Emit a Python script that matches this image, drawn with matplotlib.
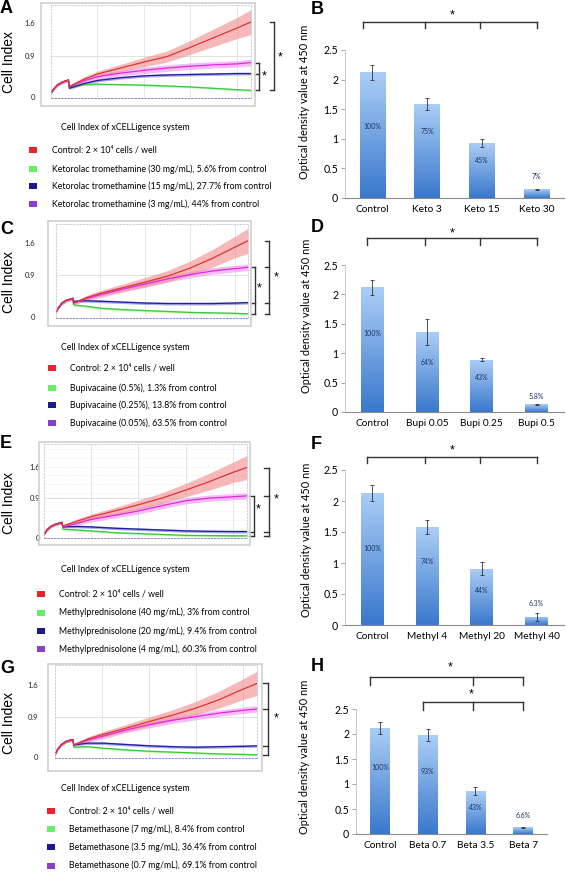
import matplotlib
matplotlib.use("Agg")
import matplotlib.pyplot as plt
import numpy as np
from matplotlib.colors import LinearSegmentedColormap
from matplotlib.patches import Rectangle
from matplotlib.lines import Line2D

W, H = 567, 873

# ---------------- xCELLigence curves (time in hours, cell index) ----------------
t_pre = [0, 3, 7, 12, 19]
t_post = [20, 35, 50, 75, 100, 125, 150, 175, 200, 215]
sd_pre = [0.01, 0.02, 0.03, 0.03, 0.03]

# panel A : ketorolac
a_pre = [0.07, 0.17, 0.26, 0.32, 0.37]
a_ctrl = [0.23, 0.38, 0.50, 0.63, 0.76, 0.88, 1.08, 1.29, 1.50, 1.63]
a_high = [0.22, 0.27, 0.28, 0.27, 0.26, 0.24, 0.22, 0.19, 0.16, 0.145]
a_mid = [0.19, 0.29, 0.36, 0.42, 0.46, 0.48, 0.49, 0.50, 0.51, 0.51]
a_low = [0.22, 0.35, 0.44, 0.52, 0.58, 0.63, 0.67, 0.70, 0.72, 0.75]

# panel C : bupivacaine
c_pre = [0.09, 0.20, 0.30, 0.36, 0.40]
c_ctrl = [0.30, 0.42, 0.51, 0.63, 0.75, 0.88, 1.05, 1.26, 1.50, 1.64]
c_high = [0.26, 0.23, 0.19, 0.16, 0.14, 0.12, 0.10, 0.09, 0.08, 0.07]
c_mid = [0.34, 0.35, 0.34, 0.32, 0.30, 0.29, 0.29, 0.29, 0.30, 0.31]
c_low = [0.30, 0.40, 0.48, 0.60, 0.71, 0.82, 0.91, 0.99, 1.04, 1.07]

# panel E : methylprednisolone
e_pre = [0.06, 0.17, 0.25, 0.30, 0.34]
e_ctrl = [0.26, 0.37, 0.47, 0.60, 0.74, 0.89, 1.07, 1.26, 1.47, 1.58]
e_high = [0.19, 0.17, 0.15, 0.11, 0.09, 0.07, 0.05, 0.045, 0.04, 0.04]
e_mid = [0.24, 0.25, 0.24, 0.21, 0.19, 0.17, 0.15, 0.14, 0.135, 0.135]
e_low = [0.24, 0.32, 0.41, 0.50, 0.60, 0.72, 0.83, 0.89, 0.92, 0.94]

# panel G : betamethasone
g_pre = [0.05, 0.18, 0.28, 0.35, 0.39]
g_ctrl = [0.27, 0.40, 0.50, 0.64, 0.79, 0.93, 1.09, 1.28, 1.51, 1.64]
g_high = [0.22, 0.23, 0.20, 0.16, 0.13, 0.11, 0.09, 0.07, 0.06, 0.05]
g_mid = [0.27, 0.31, 0.31, 0.28, 0.25, 0.23, 0.22, 0.23, 0.24, 0.25]
g_low = [0.27, 0.38, 0.46, 0.60, 0.72, 0.82, 0.90, 0.98, 1.04, 1.07]

# standard deviations after treatment
sd_ctrl = [0.03, 0.05, 0.06, 0.08, 0.10, 0.12, 0.15, 0.19, 0.23, 0.27]
sd_low = [0.03, 0.05, 0.06, 0.06, 0.07, 0.07, 0.07, 0.07, 0.07, 0.07]
sd_mid = [0.02, 0.03, 0.03, 0.03, 0.03, 0.03, 0.03, 0.03, 0.03, 0.03]
sd_high = [0.02, 0.02, 0.02, 0.02, 0.02, 0.02, 0.02, 0.02, 0.02, 0.02]

a_legend = ["Control: 2 \u00d7 10\u2074 cells / well",
            "Ketorolac tromethamine (30 mg/mL), 5.6% from control",
            "Ketorolac tromethamine (15 mg/mL), 27.7% from control",
            "Ketorolac tromethamine (3 mg/mL), 44% from control"]
c_legend = ["Control: 2 \u00d7 10\u2074 cells / well",
            "Bupivacaine (0.5%), 1.3% from control",
            "Bupivacaine (0.25%), 13.8% from control",
            "Bupivacaine (0.05%), 63.5% from control"]
e_legend = ["Control: 2 \u00d7 10\u2074 cells / well",
            "Methylprednisolone (40 mg/mL), 3% from control",
            "Methylprednisolone (20 mg/mL), 9.4% from control",
            "Methylprednisolone (4 mg/mL), 60.3% from control"]
g_legend = ["Control: 2 \u00d7 10\u2074 cells / well",
            "Betamethasone (7 mg/mL), 8.4% from control",
            "Betamethasone (3.5 mg/mL), 36.4% from control",
            "Betamethasone (0.7 mg/mL), 69.1% from control"]

# ---------------- CCK-8 bars (OD 450 nm) ----------------
b_cats = ["Control", "Keto 3", "Keto 15", "Keto 30"]
b_vals = [2.12, 1.59, 0.93, 0.15]
b_errs = [0.13, 0.10, 0.07, 0.01]
b_pcts = ["100%", "75%", "45%", "7%"]
b_pct_y = [1.20, 1.12, 0.64, 0.36]

d_cats = ["Control", "Bupi 0.05", "Bupi 0.25", "Bupi 0.5"]
d_vals = [2.12, 1.36, 0.89, 0.13]
d_errs = [0.13, 0.22, 0.03, 0.01]
d_pcts = ["100%", "64%", "43%", "5.8%"]
d_pct_y = [1.34, 0.85, 0.58, 0.27]

f_cats = ["Control", "Methyl 4", "Methyl 20", "Methyl 40"]
f_vals = [2.13, 1.58, 0.91, 0.13]
f_errs = [0.13, 0.12, 0.11, 0.06]
f_pcts = ["100%", "74%", "44%", "6.3%"]
f_pct_y = [1.24, 1.02, 0.55, 0.35]

h_cats = ["Control", "Beta 0.7", "Beta 3.5", "Beta 7"]
h_vals = [2.13, 1.98, 0.86, 0.14]
h_errs = [0.12, 0.12, 0.08, 0.01]
h_pcts = ["100%", "93%", "43%", "6.6%"]
h_pct_y = [1.32, 1.24, 0.54, 0.38]

LINE_C = ["#e03434", "#3cc83c", "#1e1e9e", "#e028e0"]
BAND_C = ["#f08a8a", "#80f080", "#7070d0", "#f090f0"]
SWATCH_C = ["#e8242c", "#66ee66", "#1a1a8c", "#8b3fc8"]

CAL = ["Lato", "DejaVu Sans"]
ARIAL = ["Liberation Sans", "DejaVu Sans"]

fig = plt.figure(figsize=(W / 100, H / 100), dpi=100)


def px_axes(x0, y0, x1, y1):
    return fig.add_axes([x0 / W, 1 - y1 / H, (x1 - x0) / W, (y1 - y0) / H])


def ftext(x, y, s, **kw):
    fig.text(x / W, 1 - y / H, s, **kw)


def cell_panel(box, frame, ylim, pad, pre, curves, ylab_y, brackets, minor=False):
    ax = px_axes(*box)
    fx0, fy0, fx1, fy1 = frame
    fig.patches.append(Rectangle((fx0 / W, 1 - fy1 / H), (fx1 - fx0) / W, (fy1 - fy0) / H,
                                 transform=fig.transFigure, fill=False, ec="#d0d0d0", lw=1.2))
    t = t_pre + t_post
    sds = [sd_ctrl, sd_high, sd_mid, sd_low]
    for i in [1, 2, 3, 0]:
        v = np.array(pre + curves[i])
        s = np.array(sd_pre + sds[i])
        ax.fill_between(t, v - s, v + s, color=BAND_C[i], alpha=0.6, lw=0)
    for i in [1, 2, 3, 0]:
        ax.plot(t, pre + curves[i], color=LINE_C[i], lw=0.9)
    ax.set_xlim(0, 215)
    ax.set_ylim(*ylim)
    for xv in [50, 100, 150, 200]:
        ax.axvline(xv, color="#e2e2e2", lw=0.6, zorder=0)
    ax.axhline(0.9, color="#dcdcdc", lw=0.6, zorder=0)
    if minor:
        for yv in [0.2, 0.4, 0.6, 0.8, 1.0, 1.2, 1.4, 1.6, 1.8, 2.0]:
            ax.axhline(yv, color="#e4e4e4", lw=0.5, ls=":", zorder=0)
    for sp in ax.spines.values():
        sp.set_color("#c8c8d8")
        sp.set_linewidth(0.6)
        sp.set_linestyle((0, (2, 2)))
    ax.spines["bottom"].set_color("#7a7ad0")
    ax.set_xticks([])
    ax.set_yticks([0, 0.9, 1.6])
    ax.set_yticklabels(["0", "0.9", "1.6"], fontsize=5.5, family=CAL, color="#222222")
    ax.tick_params(axis="y", length=0, pad=pad)
    ftext(9, ylab_y, "Cell Index", rotation=90, ha="center", va="center",
          fontsize=10, family=ARIAL)
    tr = ax.get_yaxis_transform()
    for xb, ticks, star in brackets:
        ax.add_line(Line2D([xb, xb], [ticks[0], ticks[-1]], transform=tr, color="#333333",
                           lw=1.0, clip_on=False))
        for yv in ticks:
            ax.add_line(Line2D([xb - 0.022, xb], [yv, yv], transform=tr, color="#333333",
                               lw=1.0, clip_on=False))
        ax.text(star[0], star[1], "*", transform=tr, ha="center", va="center",
                fontsize=9, family=ARIAL, clip_on=False)
    return ax


def legend_block(cap_y, sw_x, txt_x, rows_y, labels):
    ftext(61, cap_y, "Cell Index of xCELLigence system", fontsize=6.3, family=CAL,
          va="center", ha="left")
    for yy, lab, col in zip(rows_y, labels, SWATCH_C):
        fig.patches.append(Rectangle((sw_x / W, 1 - (yy + 3) / H), 8 / W, 6 / H,
                                     transform=fig.transFigure, color=col, lw=0))
        ftext(txt_x, yy, lab, fontsize=6.3, family=CAL, va="center", ha="left")


cmap = LinearSegmentedColormap.from_list("bar", ["#3a78cc", "#abcef6"])
grad = np.linspace(0, 1, 128).reshape(-1, 1)


def bar_panel(box, cats, vals, errs, pcts, pct_y, width, ylab_xy, brackets):
    ax = px_axes(*box)
    x = np.arange(len(cats))
    bars = ax.bar(x, vals, width=width, color="none", lw=0, zorder=2)
    for b in bars:
        x0 = b.get_x()
        im = ax.imshow(grad, extent=[x0, x0 + b.get_width(), 0, b.get_height()],
                       origin="lower", cmap=cmap, aspect="auto", zorder=2)
        im.set_clip_path(b)
    ax.errorbar(x, vals, yerr=errs, fmt="none", ecolor="#333333", elinewidth=0.6,
                capsize=1.5, capthick=0.6, zorder=4)
    for xi, yv, s in zip(x, pct_y, pcts):
        ax.text(xi, yv, s, ha="center", va="center", fontsize=5.0, family=CAL,
                color="#1f3460", zorder=5)
    ax.set_xlim(-0.5, len(cats) - 0.5)
    ax.set_ylim(0, 2.5)
    ax.set_yticks([0, 0.5, 1, 1.5, 2, 2.5])
    ax.set_yticklabels(["0", "0.5", "1", "1.5", "2", "2.5"], fontsize=7.6, family=CAL)
    ax.set_xticks(x)
    ax.set_xticklabels(cats, fontsize=7.3, family=CAL)
    ax.tick_params(axis="x", length=0, pad=5)
    ax.tick_params(axis="y", length=3, width=0.6, color="#999999", pad=2)
    ax.spines["top"].set_visible(False)
    ax.spines["right"].set_visible(False)
    ax.spines["left"].set_color("#c0c0c0")
    ax.spines["left"].set_linewidth(0.6)
    ax.spines["bottom"].set_color("#8a8a8a")
    ax.spines["bottom"].set_linewidth(0.8)
    ftext(ylab_xy[0], ylab_xy[1], "Optical density value at 450 nm", rotation=90,
          ha="center", va="center", fontsize=7.9, family=CAL)
    for xs, top, bot, star in brackets:
        ax.plot([xs[0], xs[-1]], [top, top], color="#333333", lw=1.0, clip_on=False)
        for xv in xs:
            ax.plot([xv, xv], [top, bot], color="#333333", lw=1.0, clip_on=False)
        ax.text(star[0], star[1], "*", ha="center", va="center", fontsize=9,
                family=ARIAL, clip_on=False)
    return ax


# ---------------- left column ----------------
cell_panel((50.7, 5, 251, 97.5), (41, 3, 255, 106), (-0.01, 2.0), 11,
           a_pre, [a_ctrl, a_high, a_mid, a_low], 62,
           [(1.115, [a_ctrl[-1], a_high[-1]], (1.148, 0.85)),
            (1.04, [a_low[-1], a_mid[-1], a_high[-1]], (1.068, 0.45))])
legend_block(128, 29, 52, [150, 169.3, 186, 204.3], a_legend)

cell_panel((55.7, 224, 248, 317.5), (48, 221, 251, 326), (-0.01, 2.0), 15,
           c_pre, [c_ctrl, c_high, c_mid, c_low], 282,
           [(1.11, [c_ctrl[-1], c_low[-1], c_mid[-1], c_high[-1]], (1.148, 0.86)),
            (1.037, [c_low[-1], c_mid[-1], c_high[-1]], (1.058, 0.62))])
legend_block(348, 48, 70, [368.3, 388.3, 405, 423.3], c_legend)

cell_panel((44, 444, 247, 538), (39, 442, 250, 545), (-0.01, 2.11), 3,
           e_pre, [e_ctrl, e_high, e_mid, e_low], 503,
           [(1.108, [e_ctrl[-1], e_low[-1], e_mid[-1], e_high[-1]], (1.145, 0.86)),
            (1.034, [e_low[-1], e_mid[-1], e_high[-1]], (1.056, 0.63))], minor=True)
legend_block(569.3, 37, 59.3, [594, 612.7, 631, 649.3], e_legend)

cell_panel((55, 665, 257, 757.5), (48, 664, 262, 771), (-0.01, 2.05), 12,
           g_pre, [g_ctrl, g_high, g_mid, g_low], 723,
           [(1.054, [g_ctrl[-1], g_low[-1], g_mid[-1], g_high[-1]], (1.094, 0.87))])
legend_block(788.3, 47, 69.3, [810.7, 829, 847.3, 865.7], g_legend)

# ---------------- right column ----------------
bar_panel((345, 50, 564, 198), b_cats, b_vals, b_errs, b_pcts, b_pct_y, 0.47, (305, 102),
          [([-0.18, 0.96, 1.97, 3.0], 2.97, 2.87, (1.45, 3.09))])
bar_panel((345, 265, 564, 412), d_cats, d_vals, d_errs, d_pcts, d_pct_y, 0.42, (307, 316),
          [([-0.1, 0.96, 1.97, 3.0], 2.96, 2.84, (1.45, 3.04))])
bar_panel((345, 470, 564, 625), f_cats, f_vals, f_errs, f_pcts, f_pct_y, 0.42, (306, 540),
          [([-0.1, 0.96, 1.97, 3.0], 2.71, 2.61, (1.45, 2.82))])
bar_panel((356, 709, 547, 834), h_cats, h_vals, h_errs, h_pcts, h_pct_y, 0.41, (304, 757),
          [([-0.21, 1.95, 3.0], 3.14, 2.98, (1.47, 3.34)),
           ([0.9, 1.95, 3.0], 2.64, 2.48, (1.92, 2.80))])

# ---------------- panel letters ----------------
for lab, lx, ly in [("A", 0, 0), ("B", 311, 1), ("C", 0, 221), ("D", 311, 219),
                    ("E", 0, 435), ("F", 311, 436), ("G", 0, 660), ("H", 311, 658)]:
    ftext(lx, ly, lab, fontsize=13, fontweight="bold", family=ARIAL, ha="left", va="top")

fig.savefig("out.png", dpi=100)
